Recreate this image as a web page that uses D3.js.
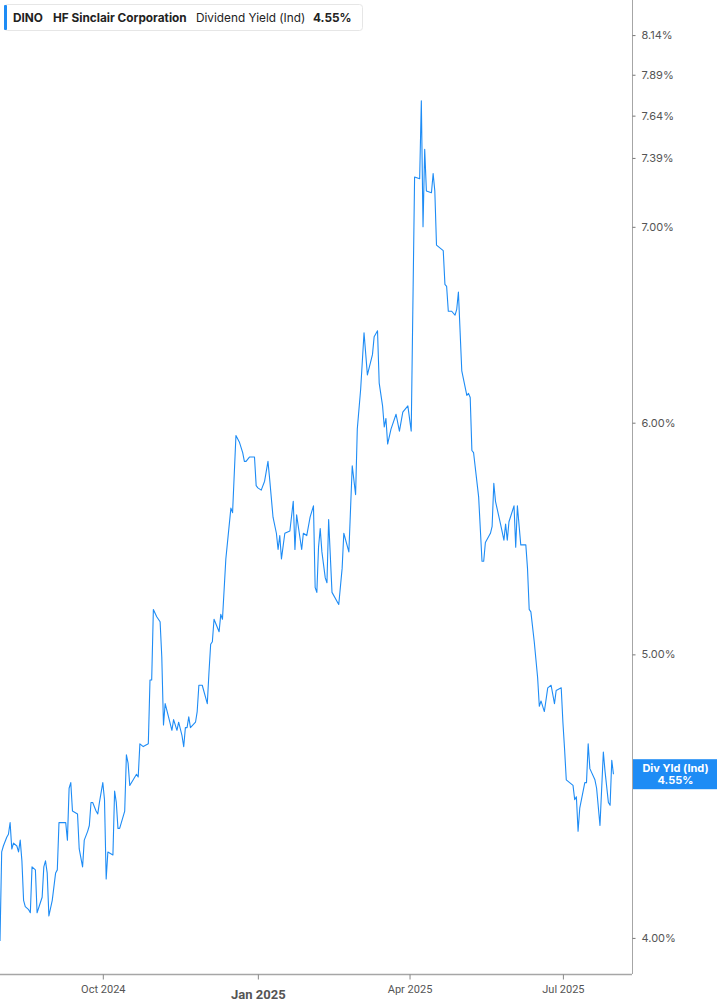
<!DOCTYPE html>
<html>
<head>
<meta charset="utf-8">
<script src="https://cdn.jsdelivr.net/npm/d3@7"></script>
<style>
  body { margin: 0; background: #fff; font-family: Inter, "Noto Sans", sans-serif; }
  #chart { position: relative; width: 717px; height: 1005px; }
</style>
</head>
<body>
<div id="chart"></div>
<script>
var DATES = ['2024-08-01','2024-08-02','2024-08-03','2024-08-05','2024-08-06','2024-08-07','2024-08-08','2024-08-09','2024-08-11','2024-08-12',
  '2024-08-13','2024-08-14','2024-08-15','2024-08-16','2024-08-18','2024-08-19','2024-08-20','2024-08-22','2024-08-23','2024-08-26',
  '2024-08-27','2024-08-28','2024-08-29','2024-08-30','2024-09-01','2024-09-03','2024-09-04','2024-09-05','2024-09-06','2024-09-09',
  '2024-09-10','2024-09-11','2024-09-12','2024-09-13','2024-09-16','2024-09-17','2024-09-19','2024-09-20','2024-09-22','2024-09-23',
  '2024-09-24','2024-09-25','2024-09-27','2024-09-28','2024-09-29','2024-10-01','2024-10-02','2024-10-03','2024-10-04','2024-10-07',
  '2024-10-08','2024-10-09','2024-10-10','2024-10-11','2024-10-14','2024-10-15','2024-10-16','2024-10-17','2024-10-21','2024-10-22',
  '2024-10-23','2024-10-25','2024-10-28','2024-10-29','2024-10-30','2024-10-31','2024-11-02','2024-11-04','2024-11-05','2024-11-06',
  '2024-11-07','2024-11-09','2024-11-11','2024-11-12','2024-11-14','2024-11-15','2024-11-17','2024-11-18','2024-11-19','2024-11-20',
  '2024-11-21','2024-11-22','2024-11-25','2024-11-26','2024-11-27','2024-11-29','2024-12-02','2024-12-03','2024-12-04','2024-12-05',
  '2024-12-06','2024-12-09','2024-12-10','2024-12-11','2024-12-13','2024-12-16','2024-12-17','2024-12-19','2024-12-21','2024-12-23',
  '2024-12-24','2024-12-25','2024-12-27','2024-12-30','2024-12-31','2025-01-01','2025-01-03','2025-01-05','2025-01-07','2025-01-08',
  '2025-01-10','2025-01-12','2025-01-13','2025-01-14','2025-01-15','2025-01-17','2025-01-20','2025-01-22','2025-01-23','2025-01-24',
  '2025-01-27','2025-01-28','2025-01-30','2025-02-01','2025-02-03','2025-02-04','2025-02-05','2025-02-06','2025-02-07','2025-02-08',
  '2025-02-10','2025-02-11','2025-02-12','2025-02-14','2025-02-18','2025-02-20','2025-02-21','2025-02-24','2025-02-26','2025-02-28',
  '2025-03-01','2025-03-03','2025-03-05','2025-03-07','2025-03-10','2025-03-11','2025-03-13','2025-03-14','2025-03-16','2025-03-17',
  '2025-03-18','2025-03-19','2025-03-21','2025-03-24','2025-03-26','2025-03-28','2025-03-31','2025-04-02','2025-04-04','2025-04-07',
  '2025-04-08','2025-04-09','2025-04-10','2025-04-11','2025-04-14','2025-04-15','2025-04-16','2025-04-17','2025-04-21','2025-04-22',
  '2025-04-23','2025-04-24','2025-04-26','2025-04-28','2025-04-29','2025-04-30','2025-05-02','2025-05-05','2025-05-06','2025-05-07',
  '2025-05-08','2025-05-09','2025-05-12','2025-05-14','2025-05-15','2025-05-16','2025-05-19','2025-05-20','2025-05-21','2025-05-22',
  '2025-05-25','2025-05-27','2025-05-28','2025-05-29','2025-05-30','2025-06-02','2025-06-03','2025-06-04','2025-06-06','2025-06-09',
  '2025-06-10','2025-06-11','2025-06-12','2025-06-14','2025-06-16','2025-06-17','2025-06-18','2025-06-20','2025-06-22','2025-06-24',
  '2025-06-26','2025-06-27','2025-06-30','2025-07-01','2025-07-02','2025-07-03','2025-07-07','2025-07-08','2025-07-09','2025-07-10',
  '2025-07-11','2025-07-14','2025-07-15','2025-07-16','2025-07-17','2025-07-20','2025-07-21','2025-07-23','2025-07-25','2025-07-26',
  '2025-07-28','2025-07-29','2025-07-30','2025-07-31'];

var YIELDS = [3.99,4.28,4.30,4.33,4.34,4.38,4.29,4.31,4.30,4.28,
  4.32,4.25,4.12,4.10,4.09,4.08,4.23,4.22,4.08,4.13,
  4.23,4.25,4.21,4.07,4.12,4.21,4.22,4.38,4.38,4.38,
  4.32,4.50,4.52,4.42,4.41,4.29,4.23,4.32,4.35,4.37,
  4.45,4.45,4.42,4.41,4.45,4.52,4.46,4.19,4.28,4.27,
  4.49,4.45,4.36,4.36,4.42,4.62,4.59,4.51,4.55,4.54,
  4.66,4.65,4.66,4.90,4.90,5.18,5.15,5.13,4.99,4.73,
  4.81,4.76,4.71,4.75,4.71,4.74,4.69,4.65,4.72,4.72,
  4.76,4.72,4.74,4.78,4.88,4.88,4.81,4.93,5.04,5.05,
  5.14,5.09,5.16,5.14,5.39,5.61,5.59,5.94,5.91,5.86,
  5.82,5.82,5.84,5.84,5.71,5.70,5.69,5.73,5.82,5.74,
  5.57,5.50,5.43,5.49,5.39,5.50,5.51,5.64,5.43,5.58,
  5.43,5.50,5.49,5.57,5.62,5.27,5.25,5.44,5.52,5.42,
  5.31,5.29,5.56,5.25,5.20,5.35,5.50,5.42,5.80,5.67,
  5.97,6.16,6.44,6.23,6.33,6.42,6.45,6.19,6.08,5.98,
  6.02,5.90,5.97,6.04,5.96,6.05,6.08,5.96,7.28,7.27,
  7.73,7.00,7.44,7.20,7.19,7.30,7.20,6.90,6.87,6.69,
  6.68,6.55,6.55,6.53,6.56,6.65,6.25,6.13,6.14,6.12,
  5.87,5.86,5.66,5.38,5.38,5.46,5.50,5.53,5.72,5.64,
  5.54,5.47,5.54,5.47,5.55,5.62,5.44,5.62,5.45,5.45,
  5.35,5.18,5.17,5.05,4.91,4.80,4.82,4.78,4.87,4.88,
  4.81,4.86,4.87,4.74,4.64,4.53,4.51,4.46,4.47,4.35,
  4.43,4.52,4.52,4.66,4.57,4.53,4.50,4.37,4.63,4.56,
  4.45,4.44,4.60,4.55];

var Y_TICKS = [4.00, 5.00, 6.00, 7.00, 7.39, 7.64, 7.89, 8.14];
var X_TICKS = ['2024-10-01', '2025-01-01', '2025-04-01', '2025-07-01'];
var X_TICK_LABELS = ['Oct 2024', 'Jan 2025', 'Apr 2025', 'Jul 2025'];
var LAST_VALUE = 4.55;

var parse = d3.timeParse('%Y-%m-%d');
var data = DATES.map(function(d, i) { return { date: parse(d), value: YIELDS[i] }; });

var W = 717, H = 1005;
var plotW = 632, plotH = 974;
var lineColor = '#1e8cf5';
var axisColor = '#a6a6a6';

var svg = d3.select('#chart')
  .append('svg')
    .attr('width', W)
    .attr('height', H);

// scales
var x = d3.scaleTime()
    .domain([parse('2024-08-01'), parse('2025-08-11')])
    .range([0, plotW]);

var y = d3.scaleLog()
    .domain([3.888, 8.368])
    .range([plotH, 0]);

// line
var line = d3.line()
    .x(function(d) { return x(d.date); })
    .y(function(d) { return y(d.value); });

svg.append('path')
    .datum(data)
    .attr('fill', 'none')
    .attr('stroke', lineColor)
    .attr('stroke-width', 1.1)
    .attr('stroke-linejoin', 'round')
    .attr('d', line);

// right axis
var yAxis = svg.append('g')
    .attr('transform', 'translate(' + (plotW + 0.5) + ',0)')
    .call(d3.axisRight(y)
      .tickValues(Y_TICKS)
      .tickSize(3)
      .tickPadding(6)
      .tickFormat(function(d) { return d.toFixed(2) + '%'; }));
yAxis.select('.domain')
    .attr('stroke', axisColor)
    .attr('d', 'M0,0V' + plotH);
yAxis.selectAll('.tick line').attr('stroke', '#777');
yAxis.selectAll('text')
    .style('fill', '#555')
    .style('font-size', '11px')
    .style('font-family', 'Inter, sans-serif');

// bottom axis
var xAxis = svg.append('g')
    .attr('transform', 'translate(0,' + (plotH + 0.5) + ')')
    .call(d3.axisBottom(x)
      .tickValues(X_TICKS.map(parse))
      .tickSize(5)
      .tickPadding(6)
      .tickFormat(function(d, i) { return X_TICK_LABELS[i]; }));
xAxis.select('.domain')
    .attr('stroke', axisColor)
    .attr('stroke-width', 1.5)
    .attr('d', 'M0,0H' + plotW);
xAxis.selectAll('.tick line').attr('stroke', '#888');
xAxis.selectAll('text')
    .style('fill', '#555')
    .style('font-family', '"Roboto", sans-serif')
    .style('font-weight', function(d, i) { return i === 1 ? '700' : '400'; })
    .style('font-size', function(d, i) { return i === 1 ? '13px' : '11px'; })
    .attr('dy', function(d, i) { return i === 1 ? '1.05em' : '0.71em'; });

// last value label
var labelY = y(LAST_VALUE);
var tag = svg.append('g').attr('transform', 'translate(' + (plotW + 1) + ',' + labelY + ')');
tag.append('rect')
    .attr('x', 0)
    .attr('y', -15)
    .attr('width', W - plotW - 1)
    .attr('height', 30)
    .attr('fill', lineColor);
tag.append('text')
    .attr('x', (W - plotW) / 2)
    .attr('y', -2)
    .attr('text-anchor', 'middle')
    .style('fill', '#fff')
    .style('font-size', '11px')
    .style('font-weight', '700')
    .style('font-family', 'Inter, sans-serif')
    .text('Div Yld (Ind)');
tag.append('text')
    .attr('x', (W - plotW) / 2)
    .attr('y', 10)
    .attr('text-anchor', 'middle')
    .style('fill', '#fff')
    .style('font-size', '11px')
    .style('font-weight', '700')
    .style('font-family', 'Inter, sans-serif')
    .text(LAST_VALUE.toFixed(2) + '%');

// header legend
var legend = svg.append('g');
legend.append('rect')
    .attr('x', 4.5).attr('y', 4.5)
    .attr('width', 358).attr('height', 26)
    .attr('rx', 3)
    .attr('fill', '#fff')
    .attr('stroke', '#e6e6e6');
legend.append('rect')
    .attr('x', 4).attr('y', 5)
    .attr('width', 3).attr('height', 25)
    .attr('rx', 1)
    .attr('fill', lineColor);
var legendText = legend.append('text')
    .attr('x', 13)
    .attr('y', 22)
    .style('font-size', '11.8px')
    .style('font-family', 'Inter, sans-serif')
    .style('fill', '#222');
legendText.append('tspan').style('font-weight', '700').text('DINO');
legendText.append('tspan').attr('x', 53).style('font-weight', '700').text('HF Sinclair Corporation');
legendText.append('tspan').attr('x', 196).style('font-weight', '400').text('Dividend Yield (Ind)');
legendText.append('tspan').attr('x', 313).style('font-weight', '700').text(LAST_VALUE.toFixed(2) + '%');
</script>
</body>
</html>
